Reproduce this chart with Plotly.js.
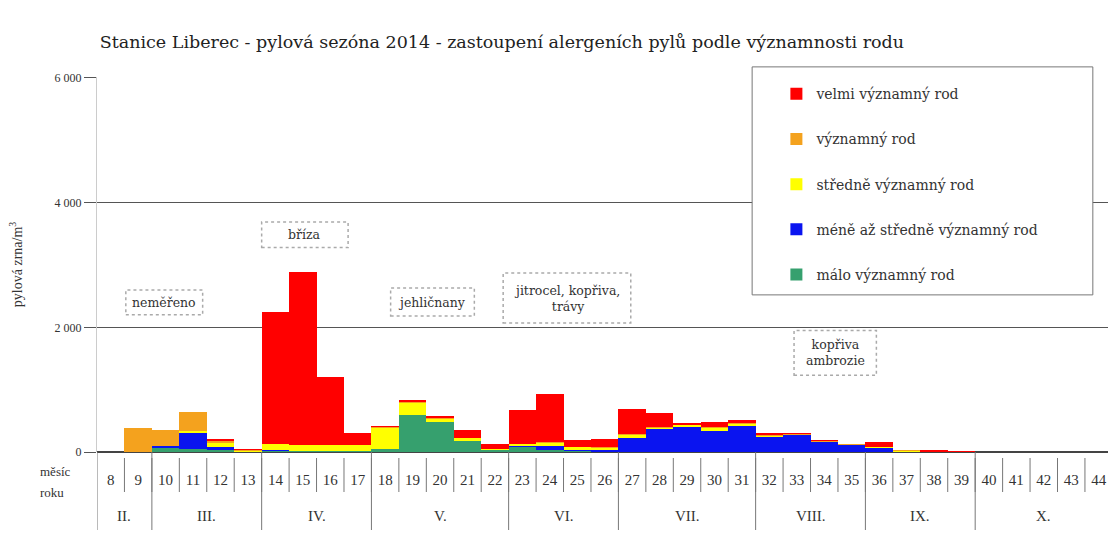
<!DOCTYPE html>
<html><head><meta charset="utf-8">
<script src="https://cdn.plot.ly/plotly-3.0.1.min.js"></script>
<style>html,body{margin:0;padding:0;background:#fff}#chart{width:1108px;height:539px}</style>
</head><body><div id="chart"></div>
<script>
// week numbers (x categories)
const weeks = [8,9,10,11,12,13,14,15,16,17,18,19,20,21,22,23,24,25,26,27,28,29,30,31,32,33,34,35,36,37,38,39,40,41,42,43,44];
// series values (pollen grains / m3), stacked bottom -> top
const maloVyznamny   = [0,0,60,50,40,5,10,10,10,15,55,600,480,180,25,80,25,10,5,5,5,5,5,5,5,5,0,0,5,0,0,0,0,0,0,0,0];
const meneAzStredne  = [0,0,30,260,45,0,20,5,5,5,0,0,0,0,10,10,70,15,35,222,360,395,338,415,240,260,155,120,57,5,0,0,0,0,0,0,0];
const stredneVyzn    = [0,0,10,30,55,10,95,100,100,90,330,180,55,40,10,35,45,50,25,50,25,35,48,33,15,10,5,0,15,5,0,0,0,0,0,0,0];
const vyznamny       = [0,385,245,300,30,15,0,0,0,0,10,15,10,5,5,5,20,10,10,10,5,5,5,5,18,15,20,5,5,25,5,5,0,0,0,0,0];
const velmiVyznamny  = [0,0,0,0,35,20,2125,2770,1090,190,27,38,35,135,77,543,765,110,130,405,232,25,87,62,33,14,5,5,80,5,20,5,0,0,0,0,0];

const seriesNames = ['málo významný rod','méně až středně významný rod','středně významný rod','významný rod','velmi významný rod'];
const seriesColors = ['#36a06e','#0a14f0','#ffff00','#f4a21e','#ff0000'];
const seriesData = [maloVyznamny, meneAzStredne, stredneVyzn, vyznamny, velmiVyznamny];

// month table
const monthLabels = ['II.','III.','IV.','V.','VI.','VII.','VIII.','IX.','X.'];
const monthFirstWeek = [8,10,14,18,23,27,32,36,40];
const monthLastWeek  = [9,13,17,22,26,31,35,39,44];

// yaxis ticks
const yTickVals = [0,2000,4000,6000];
const yTickText = ['0','2 000','4 000','6 000'];

// dotted note boxes
const notes = [
  {text:'neměřeno', x0:8.55, x1:11.35, y0:2200, y1:2600},
  {text:'bříza', x0:13.5, x1:16.65, y0:3280, y1:3690},
  {text:'jehličnany', x0:18.2, x1:21.25, y0:2180, y1:2630},
  {text:'jitrocel, kopřiva,<br>trávy', x0:22.3, x1:26.95, y0:2070, y1:2870},
  {text:'kopřiva<br>ambrozie', x0:32.9, x1:35.9, y0:1230, y1:1950}
];

const SERIF = 'Liberation Serif, DejaVu Serif, serif';
const WIDE = 'DejaVu Serif, serif';
const TXT = '#333';

const traces = seriesData.map((d,i)=>({
  type:'bar', x:weeks, y:d, name:seriesNames[i], width:1,
  marker:{color:seriesColors[i], line:{width:0}},
  legendgroup:'g'+i, legendrank:100-i, hoverinfo:'skip'
}));

const shapes = [];
const annotations = [];
const plotH = 375; // px of plot area for paper conversion
const py = px => -(px)/plotH; // px below baseline -> paper y

// week separators (short)
weeks.forEach(w=>{
  shapes.push({type:'line', xref:'x', yref:'paper', x0:w+0.5, x1:w+0.5, y0:py(6), y1:py(40), line:{color:'#777', width:1}, layer:'above'});
});
// month separators (long)
monthFirstWeek.forEach((w,i)=>{
  shapes.push({type:'line', xref:'x', yref:'paper', x0:w-0.5, x1:w-0.5, y0:py(0), y1:py(78), line:{color:'#777', width:1}, layer:'above'});
  annotations.push({xref:'x', yref:'paper', x:(w+monthLastWeek[i])/2, y:py(64), text:monthLabels[i], showarrow:false,
    font:{family:SERIF, size:15, color:TXT}, yanchor:'middle'});
});
// note boxes
notes.forEach(n=>{
  shapes.push({type:'rect', xref:'x', yref:'y', x0:n.x0, x1:n.x1, y0:n.y0, y1:n.y1, fillcolor:'#fff',
    line:{color:'#aaa', width:1.5, dash:'dot'}, layer:'above'});
  annotations.push({xref:'x', yref:'y', x:(n.x0+n.x1)/2, y:(n.y0+n.y1)/2, text:n.text, showarrow:false,
    font:{family:WIDE, size:12.5, color:TXT}, align:'center'});
});
// legend frame
shapes.push({type:'rect', xref:'paper', yref:'paper', x0:0.648, x1:0.985, y0:0.419, y1:1.027,
  fillcolor:'#fff', line:{color:'#777', width:1}, layer:'above'});
// "měsíc roku"
annotations.push({xref:'paper', yref:'paper', x:-0.058, y:py(19), yanchor:'middle', text:'měsíc', showarrow:false, font:{family:SERIF, size:13, color:TXT}});
annotations.push({xref:'paper', yref:'paper', x:-0.058, y:py(40), yanchor:'middle', text:'roku', showarrow:false, font:{family:SERIF, size:13, color:TXT}});

const layout = {
  width:1108, height:539,
  margin:{l:97, r:0, t:77, b:87},
  paper_bgcolor:'#fff', plot_bgcolor:'#fff',
  barmode:'stack', bargap:0,
  showlegend:true,
  title:{text:'Stanice Liberec - pylová sezóna 2014 - zastoupení alergeních pylů podle významnosti rodu',
    xref:'container', yref:'container', x:0.09, xanchor:'left', y:0.922, yanchor:'middle',
    font:{family:WIDE, size:17.5, color:'#222'}},
  xaxis:{range:[7.5,44.34], tickvals:weeks, ticktext:weeks.map(String), ticks:'', showgrid:false,
    zeroline:false, showline:false, ticklabelstandoff:17, tickangle:0,
    tickfont:{family:SERIF, size:15, color:TXT}},
  yaxis:{range:[0,6015], tickvals:yTickVals, ticktext:yTickText, showgrid:true, gridcolor:'#555', gridwidth:1,
    zeroline:true, zerolinecolor:'#444', zerolinewidth:1.5,
    showline:true, linecolor:'#ccc', linewidth:1, ticks:'outside', ticklen:12, tickcolor:'#555',
    tickfont:{family:SERIF, size:12, color:TXT},
    title:{text:'pylová zrna/m<sup>3</sup>', font:{family:SERIF, size:14, color:TXT}, standoff:28}},
  legend:{x:0.672, y:0.997, xanchor:'left', yanchor:'top', traceorder:'grouped', tracegroupgap:24,
    bgcolor:'rgba(0,0,0,0)', borderwidth:0, font:{family:WIDE, size:14, color:TXT}, itemclick:false},
  shapes:shapes, annotations:annotations
};

Plotly.newPlot('chart', traces, layout, {displayModeBar:false, staticPlot:true});
</script></body></html>
